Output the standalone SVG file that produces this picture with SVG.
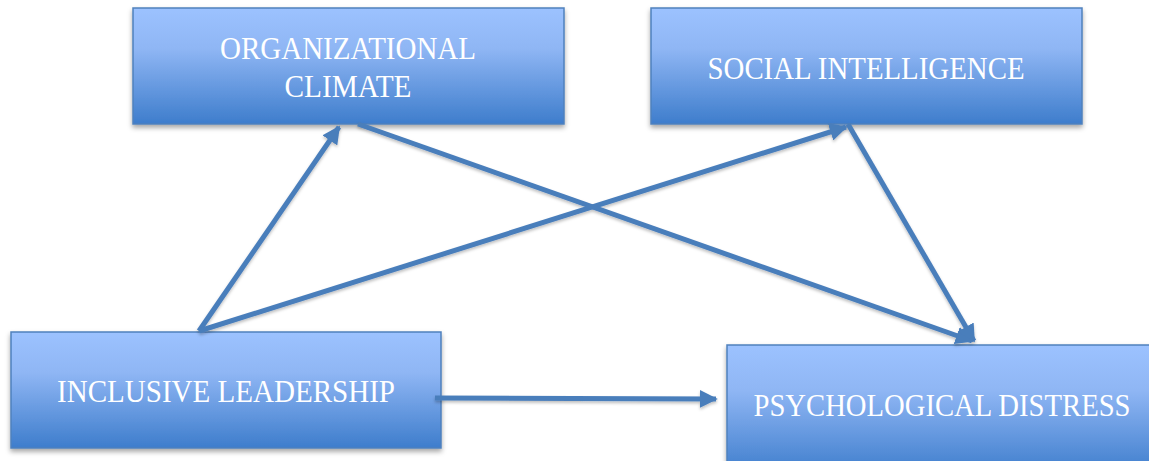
<svg xmlns="http://www.w3.org/2000/svg" width="1149" height="461" viewBox="0 0 1149 461">
<style>
.box{fill:url(#g);stroke:#4f81bd;stroke-width:1.5;filter:url(#sh)}
.t{font-family:"Liberation Serif","DejaVu Serif",serif;font-size:32px;fill:#ffffff;text-anchor:middle}
.c{stroke:#4a7ebb;stroke-width:5;fill:none;marker-end:url(#ah)}
</style>
<defs>
<linearGradient id="g" x1="0" y1="0" x2="0" y2="1">
<stop offset="0" stop-color="#9cc2ff"/>
<stop offset="0.35" stop-color="#8fb6f4"/>
<stop offset="1" stop-color="#3e7dcc"/>
</linearGradient>
<filter id="sh" x="-10%" y="-10%" width="120%" height="130%">
<feDropShadow dx="0" dy="3" stdDeviation="2.5" flood-color="#000" flood-opacity="0.35"/>
</filter>
<filter id="sh2" filterUnits="userSpaceOnUse" x="0" y="0" width="1149" height="461">
<feDropShadow dx="0" dy="2" stdDeviation="1.5" flood-color="#000" flood-opacity="0.25"/>
</filter>
<marker id="ah" viewBox="0 0 10 10" refX="9" refY="5" markerWidth="3.6" markerHeight="3.6" orient="auto" markerUnits="strokeWidth">
<path d="M0,0 L10,5 L0,10 Z" fill="#4a7ebb"/>
</marker>
</defs>
<g id="oc">
<rect class="box" x="133" y="8" width="431" height="116"/>
<text class="t" x="348" y="59" textLength="256" lengthAdjust="spacingAndGlyphs">ORGANIZATIONAL</text>
<text class="t" x="348" y="97" textLength="127" lengthAdjust="spacingAndGlyphs">CLIMATE</text>
</g>
<g id="si">
<rect class="box" x="651" y="8" width="431" height="116"/>
<text class="t" x="866" y="79" textLength="317" lengthAdjust="spacingAndGlyphs">SOCIAL INTELLIGENCE</text>
</g>
<g id="il">
<rect class="box" x="11" y="332" width="430" height="116"/>
<text class="t" x="226" y="402" textLength="338" lengthAdjust="spacingAndGlyphs">INCLUSIVE LEADERSHIP</text>
</g>
<g id="pd">
<rect class="box" x="727" y="345" width="440" height="130"/>
<text class="t" x="942" y="416" textLength="377" lengthAdjust="spacingAndGlyphs">PSYCHOLOGICAL DISTRESS</text>
</g>
<g id="connectors" filter="url(#sh2)">
<line class="c" x1="199" y1="331" x2="339" y2="127"/>
<line class="c" x1="199" y1="331" x2="846" y2="127"/>
<line class="c" x1="358" y1="124" x2="972" y2="341"/>
<line class="c" x1="848" y1="124" x2="974" y2="341"/>
<line class="c" x1="435" y1="398" x2="716" y2="399"/>
</g>
</svg>
